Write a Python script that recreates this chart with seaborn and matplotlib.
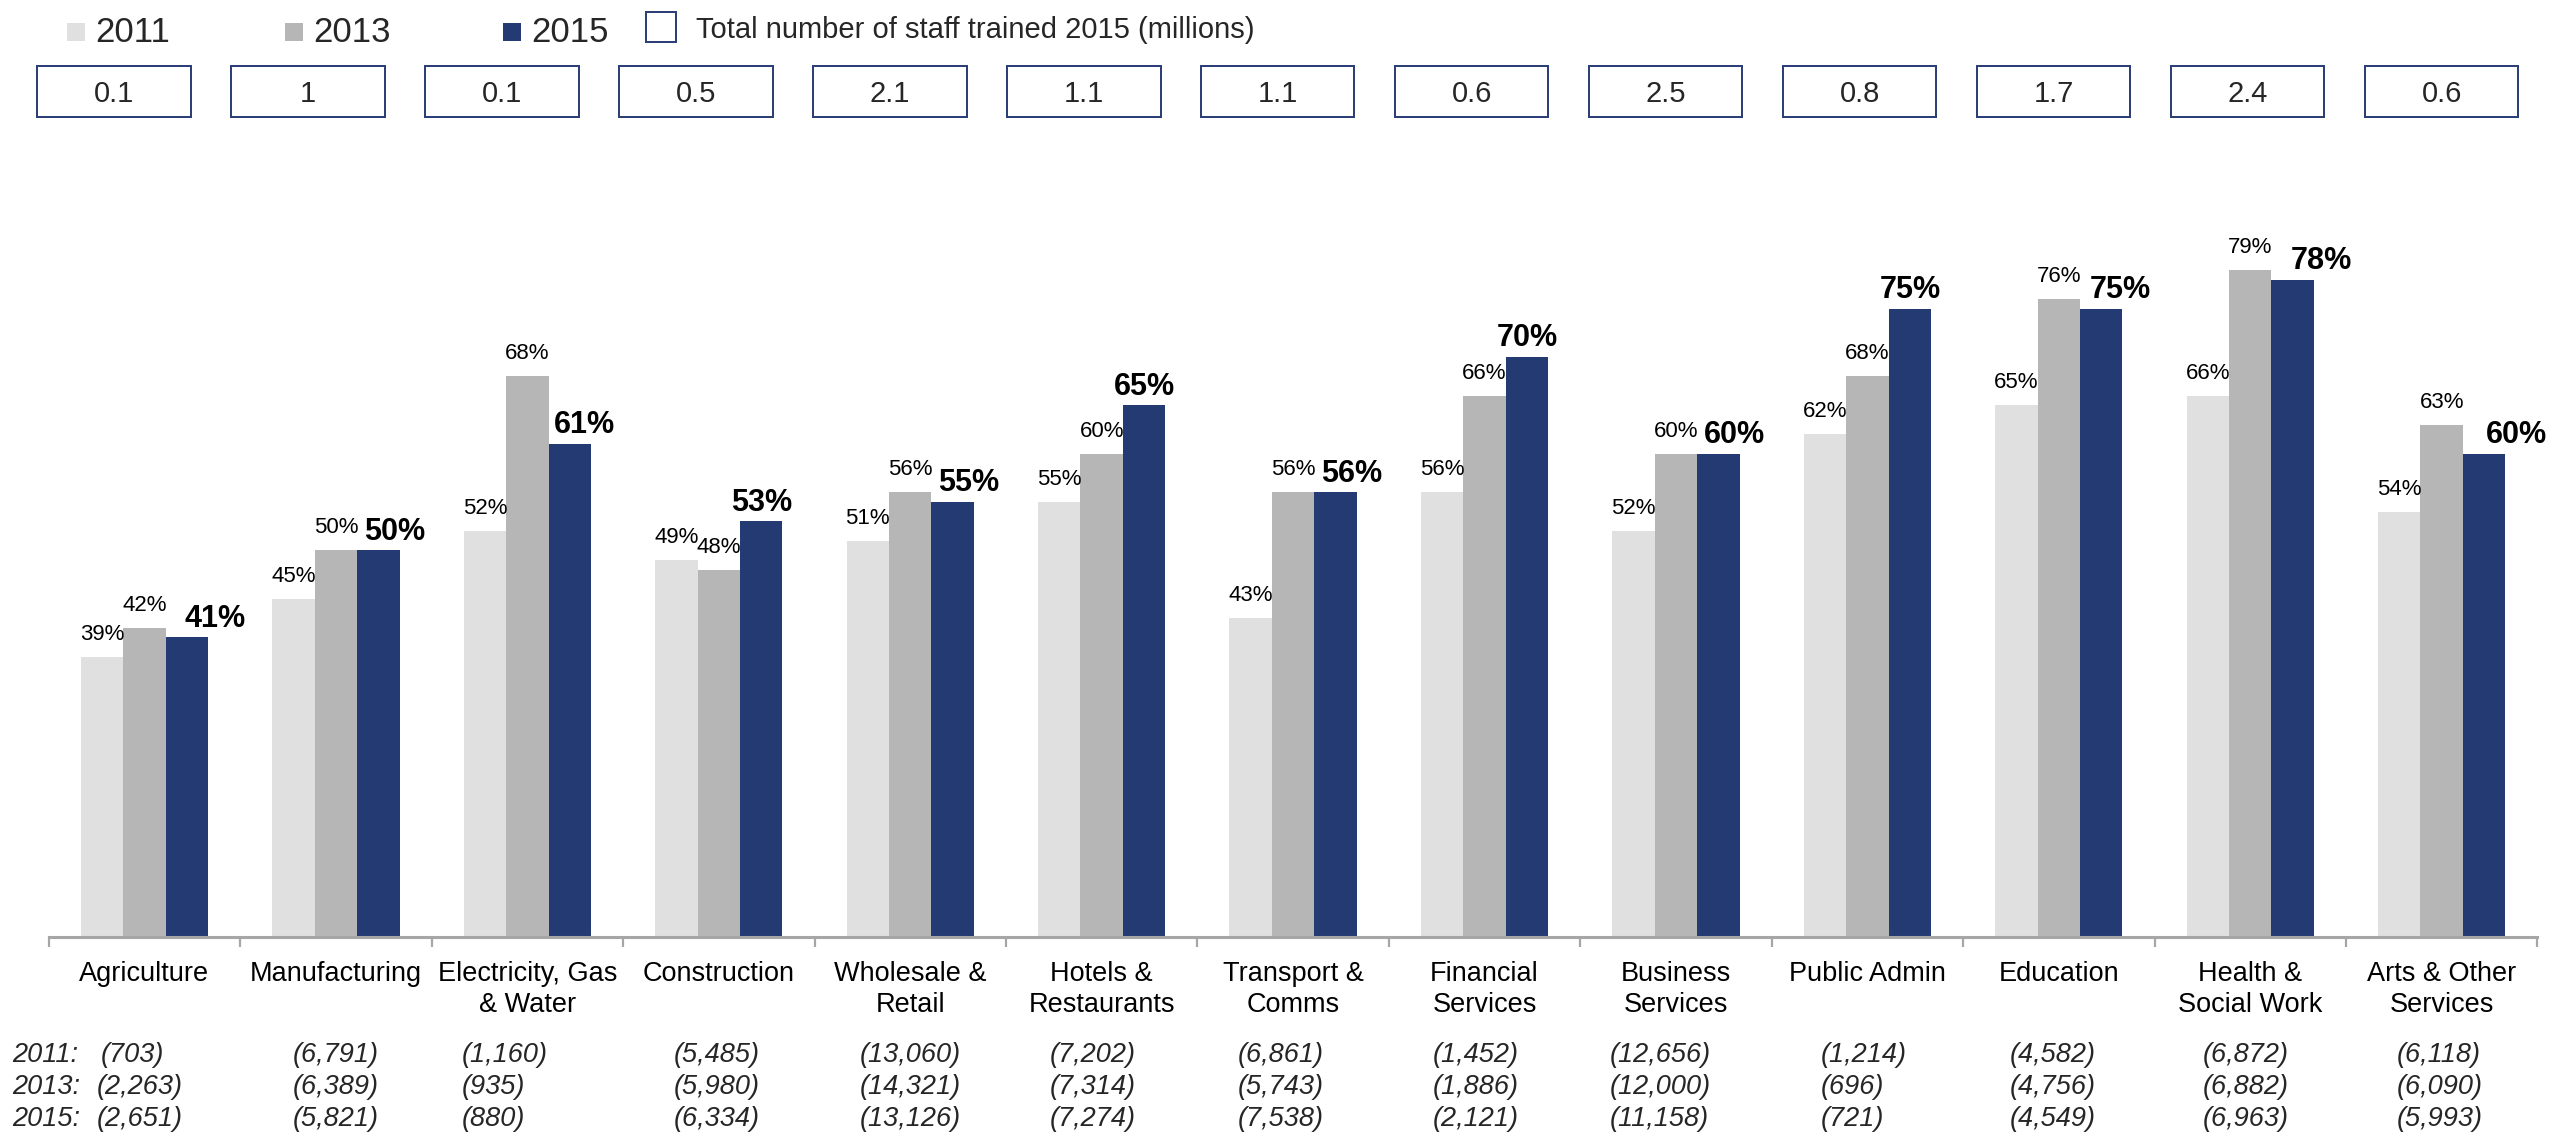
import matplotlib
matplotlib.use("Agg")
import matplotlib.pyplot as plt
import matplotlib.transforms as mtransforms
from matplotlib.patches import Rectangle
import pandas as pd
import seaborn as sns

# ---- data -------------------------------------------------------------
sectors = ["Agriculture", "Manufacturing", "Electricity, Gas\n& Water", "Construction",
           "Wholesale &\nRetail", "Hotels &\nRestaurants", "Transport &\nComms",
           "Financial\nServices", "Business\nServices", "Public Admin", "Education",
           "Health &\nSocial Work", "Arts & Other\nServices"]
years = ["2011", "2013", "2015"]
share_2011 = [39, 45, 52, 49, 51, 55, 43, 56, 52, 62, 65, 66, 54]
share_2013 = [42, 50, 68, 48, 56, 60, 56, 66, 60, 68, 76, 79, 63]
share_2015 = [41, 50, 61, 53, 55, 65, 56, 70, 60, 75, 75, 78, 60]
trained_2015_millions = [0.1, 1, 0.1, 0.5, 2.1, 1.1, 1.1, 0.6, 2.5, 0.8, 1.7, 2.4, 0.6]
base_2011 = [703, 6791, 1160, 5485, 13060, 7202, 6861, 1452, 12656, 1214, 4582, 6872, 6118]
base_2013 = [2263, 6389, 935, 5980, 14321, 7314, 5743, 1886, 12000, 696, 4756, 6882, 6090]
base_2015 = [2651, 5821, 880, 6334, 13126, 7274, 7538, 2121, 11158, 721, 4549, 6963, 5993]

shares = {"2011": share_2011, "2013": share_2013, "2015": share_2015}
bases = {"2011": base_2011, "2013": base_2013, "2015": base_2015}
df = pd.DataFrame([
    {"sector": s, "year": y, "share": shares[y][i]}
    for y in years for i, s in enumerate(sectors)
])

# ---- style ------------------------------------------------------------
sns.set_theme(style="white")
plt.rcParams["font.family"] = ["Liberation Sans", "DejaVu Sans"]

colors = {"2011": "#e0e0e0", "2013": "#b6b6b6", "2015": "#243a73"}
box_edge = "#2c3f77"
axis_grey = "#a6a6a6"

W, H = 2552, 1139
fig = plt.figure(figsize=(W / 100, H / 100), dpi=100)
PX = 72 / 100  # points per pixel


def fx(px):
    return px / W


def fy(py):
    return 1 - py / H


ax = fig.add_axes([fx(48.8), fy(937), (2537.4 - 48.8) / W, (937 - 212) / H])

sns.barplot(data=df, x="sector", y="share", hue="year", hue_order=years,
            palette=colors, saturation=1, width=0.665, gap=0,
            linewidth=0, legend=False, ax=ax)

ax.set_xlim(-0.5, len(sectors) - 0.5)
ax.set_ylim(10, 85)
ax.set_xlabel("")
ax.set_ylabel("")
ax.set_yticks([])
for side in ("left", "right", "top"):
    ax.spines[side].set_visible(False)
ax.spines["bottom"].set_color(axis_grey)
ax.spines["bottom"].set_linewidth(2.2)

# category boundary ticks, names drawn separately below
ax.set_xticks([i - 0.5 for i in range(len(sectors) + 1)])
ax.set_xticklabels([])
ax.tick_params(axis="x", bottom=True, length=7, width=1.6, color=axis_grey, direction="out")

# horizontal nudge (px) of the bold 2015 labels so they clear the 2013 label
bold_nudge_px = [28, 16, 15, 0, 16, 0, 16, 0, 16, 0, 19, 29, 32]

# value labels on bars
for year, cont in zip(years, ax.containers):
    bold = year == "2015"
    for i, (patch, val) in enumerate(zip(cont.patches, shares[year])):
        xc = patch.get_x() + patch.get_width() / 2
        dx = bold_nudge_px[i] * PX if bold else 0
        ax.annotate(f"{val}%", xy=(xc, val),
                    xytext=(dx, 7.7 if bold else 12.2), textcoords="offset points",
                    ha="center", va="baseline",
                    fontsize=22 if bold else 16,
                    fontweight="bold" if bold else "normal", color="black")

# sector names under the axis
xdata_yfig = mtransforms.blended_transform_factory(ax.transData, fig.transFigure)
for i, name in enumerate(sectors):
    for j, line in enumerate(name.split("\n")):
        ax.text(i, fy(981 + 31 * j), line, transform=xdata_yfig,
                ha="center", va="baseline", fontsize=19.5, color="black")

# respondent base rows
row_baselines = [1062, 1094, 1126]
col_left = [97, 293, 462, 674, 860, 1050, 1238, 1433, 1610, 1821, 2010, 2203, 2397]
for year, yb in zip(years, row_baselines):
    fig.text(fx(11.7), fy(yb), f"{year}:", ha="left", va="baseline",
             fontsize=19.5, style="italic")
    for i, v in enumerate(bases[year]):
        left = col_left[i] + (4 if (i == 0 and year == "2011") else 0)
        fig.text(fx(left), fy(yb), f"({v:,})", ha="left", va="baseline",
                 fontsize=19.5, style="italic")

# staff-trained boxes along the top
box_w, box_h = 153.3, 51
for i, v in enumerate(trained_2015_millions):
    cx = 114 + 193.97 * i
    fig.add_artist(Rectangle((fx(cx - box_w / 2), fy(65.7 + box_h)), box_w / W, box_h / H,
                             transform=fig.transFigure, fill=False,
                             edgecolor=box_edge, linewidth=1.44))
    fig.text(fx(cx), fy(101.7), f"{v:g}", ha="center", va="baseline", fontsize=21)

# legend
for year, sq_left, txt_left in zip(years, [67, 285, 503], [95, 313, 531]):
    fig.add_artist(Rectangle((fx(sq_left), fy(41)), 18 / W, 18 / H,
                             transform=fig.transFigure, facecolor=colors[year],
                             edgecolor="none"))
    fig.text(fx(txt_left), fy(42), year, ha="left", va="baseline", fontsize=25)
fig.add_artist(Rectangle((fx(646), fy(42)), 30 / W, 30 / H, transform=fig.transFigure,
                         fill=False, edgecolor=box_edge, linewidth=1.44))
fig.text(fx(696), fy(38), "Total number of staff trained 2015 (millions)",
         ha="left", va="baseline", fontsize=21)

fig.savefig("out.png", dpi=100)
